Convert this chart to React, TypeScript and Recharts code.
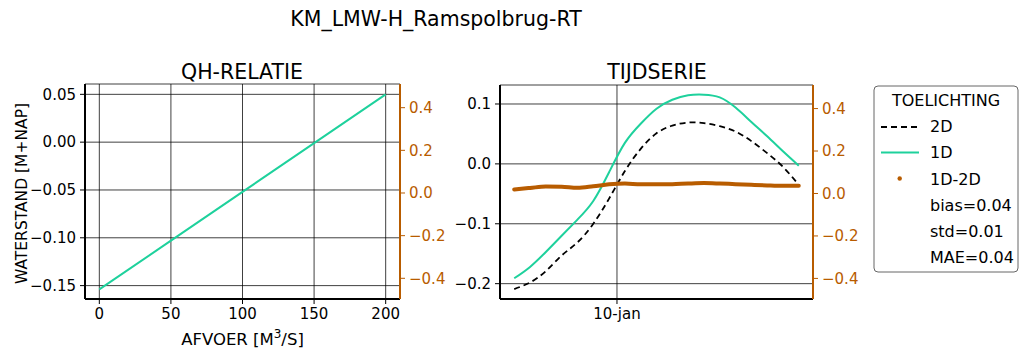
import React from 'react';
import { ComposedChart, Line, XAxis, YAxis, CartesianGrid } from 'recharts';

const FONT = "'DejaVu Sans', sans-serif";

// QH relation
const qhDischarge = [0, 50, 100, 150, 200];
const qhLevel = [-0.154, -0.103, -0.052, -0.001, 0.05];
const qhXTicks = [0, 50, 100, 150, 200];
const qhYTicks = [-0.15, -0.1, -0.05, 0, 0.05];
const diffTicks = [-0.4, -0.2, 0, 0.2, 0.4];

// time series (hours from start)
const tsHours = [0, 2, 4, 6, 8, 10, 12, 14, 16, 18, 20, 22, 24, 26, 28, 30, 32, 34, 36];
const ts2D = [-0.209, -0.198, -0.179, -0.153, -0.131, -0.1, -0.058, -0.012, 0.025, 0.051, 0.064, 0.069, 0.068, 0.063, 0.054, 0.038, 0.018, -0.005, -0.035];
const ts1D = [-0.191, -0.172, -0.147, -0.12, -0.093, -0.062, -0.014, 0.035, 0.067, 0.092, 0.107, 0.1145, 0.1155, 0.111, 0.094, 0.07, 0.046, 0.021, -0.003];
const tsDiff = [0.019, 0.026, 0.033, 0.032, 0.027, 0.034, 0.043, 0.047, 0.043, 0.043, 0.044, 0.047, 0.049, 0.047, 0.044, 0.041, 0.038, 0.036, 0.036];
const tsYTicks = [-0.2, -0.1, 0, 0.1];
const tsXTicks = [13];
const tsXTickLabels = ['10-jan'];

const legendLabels = ['2D', '1D', '1D-2D'];
const statLabels = ['bias=0.04', 'std=0.01', 'MAE=0.04'];

const GREEN = '#1ed19c';
const ORANGE = '#b85c00';

const qhData = qhDischarge.map((q, i) => ({ q, h: qhLevel[i] }));
const tsData = tsHours.map((t, i) => ({ t, d2: ts2D[i], d1: ts1D[i], diff: tsDiff[i] }));

const minus = (s: string) => s.replace('-', '\u2212');
const tickStyle = { fontSize: 15, fill: '#000', fontFamily: FONT };
const orangeTick = { fontSize: 15, fill: ORANGE, fontFamily: FONT };

export default function App() {
  return (
    <div style={{ position: 'absolute', left: 0, top: 0, width: 1022, height: 353, background: '#fff', fontFamily: FONT }}>
      <div style={{ position: 'absolute', left: 0, top: 0 }}>
        <ComposedChart width={460} height={353} data={qhData} margin={{ top: 84, right: 0, bottom: 24, left: 0 }}>
          <CartesianGrid xAxisId="x" yAxisId="left" stroke="#000" strokeOpacity={0.75} strokeWidth={1} />
          <XAxis xAxisId="x" dataKey="q" type="number" domain={[-10, 210]} ticks={qhXTicks} height={30}
            axisLine={{ stroke: '#000', strokeWidth: 2 }} tickLine={{ stroke: '#000' }} tickSize={5} tickMargin={4}
            tick={tickStyle} allowDataOverflow />
          <XAxis xAxisId="top" orientation="top" type="number" domain={[-10, 210]} height={0} tick={false} tickLine={false}
            axisLine={{ stroke: '#000', strokeWidth: 2 }} />
          <YAxis yAxisId="left" type="number" domain={[-0.164, 0.0608]} ticks={qhYTicks} width={85}
            tickFormatter={(v: number) => minus(v.toFixed(2))} axisLine={{ stroke: '#000', strokeWidth: 2 }}
            tickLine={{ stroke: '#000' }} tickSize={5} tickMargin={4} tick={tickStyle} allowDataOverflow />
          <YAxis yAxisId="right" orientation="right" type="number" domain={[-0.497, 0.511]} ticks={diffTicks} width={60}
            tickFormatter={(v: number) => minus(v.toFixed(1))} axisLine={{ stroke: ORANGE, strokeWidth: 2 }}
            tickLine={{ stroke: ORANGE }} tickSize={5} tickMargin={4} tick={orangeTick} allowDataOverflow />
          <Line xAxisId="x" yAxisId="left" dataKey="h" stroke={GREEN} strokeWidth={2} dot={false} isAnimationActive={false} type="linear" />
        </ComposedChart>
      </div>
      <div style={{ position: 'absolute', left: 440, top: 0 }}>
        <ComposedChart width={443} height={353} data={tsData} margin={{ top: 85, right: 0, bottom: 24, left: 0 }}>
          <CartesianGrid xAxisId="x" yAxisId="left" stroke="#000" strokeOpacity={0.75} strokeWidth={1} />
          <XAxis xAxisId="x" dataKey="t" type="number" domain={[-1.8, 37.8]} ticks={tsXTicks} height={30}
            tickFormatter={(v: number) => tsXTickLabels[tsXTicks.indexOf(v)] ?? ''}
            axisLine={{ stroke: '#000', strokeWidth: 2 }} tickLine={{ stroke: '#000' }} tickSize={5} tickMargin={4}
            tick={tickStyle} allowDataOverflow />
          <XAxis xAxisId="top" orientation="top" type="number" domain={[-1.8, 37.8]} height={0} tick={false} tickLine={false}
            axisLine={{ stroke: '#000', strokeWidth: 2 }} />
          <YAxis yAxisId="left" type="number" domain={[-0.2256, 0.1317]} ticks={tsYTicks} width={60}
            tickFormatter={(v: number) => minus(v.toFixed(1))} axisLine={{ stroke: '#000', strokeWidth: 2 }}
            tickLine={{ stroke: '#000' }} tickSize={5} tickMargin={4} tick={tickStyle} allowDataOverflow />
          <YAxis yAxisId="right" orientation="right" type="number" domain={[-0.497, 0.511]} ticks={diffTicks} width={70}
            tickFormatter={(v: number) => minus(v.toFixed(1))} axisLine={{ stroke: ORANGE, strokeWidth: 2 }}
            tickLine={{ stroke: ORANGE }} tickSize={5} tickMargin={4} tick={orangeTick} allowDataOverflow />
          <Line xAxisId="x" yAxisId="left" dataKey="d2" stroke="#000" strokeWidth={1.8} strokeDasharray="6 4" dot={false} isAnimationActive={false} type="natural" />
          <Line xAxisId="x" yAxisId="left" dataKey="d1" stroke={GREEN} strokeWidth={2} dot={false} isAnimationActive={false} type="natural" />
          <Line xAxisId="x" yAxisId="right" dataKey="diff" stroke={ORANGE} strokeWidth={4} strokeLinecap="round" dot={false} isAnimationActive={false} type="monotone" />
        </ComposedChart>
      </div>
      <svg width={1022} height={353} style={{ position: 'absolute', left: 0, top: 0, pointerEvents: 'none' }} fontFamily={FONT}>
        <text x={436} y={26} textAnchor="middle" fontSize={20.5} fill="#000">KM_LMW-H_Ramspolbrug-RT</text>
        <text x={242} y={79} textAnchor="middle" fontSize={20.5} fill="#000">QH-RELATIE</text>
        <text x={657} y={79} textAnchor="middle" fontSize={20.5} fill="#000">TIJDSERIE</text>
        <text transform="translate(27,193.5) rotate(-90)" textAnchor="middle" fontSize={15.5} fill="#000">WATERSTAND [M+NAP]</text>
        <text x={242.5} y={345} textAnchor="middle" fontSize={16.5} fill="#000">
          AFVOER [M<tspan dy={-7} fontSize={12}>3</tspan><tspan dy={7}>/S]</tspan>
        </text>
        <rect x={874} y={86} width={144} height={186} rx={4} ry={4} fill="#fff" stroke="#666" strokeWidth={1} />
        <text x={946} y={106} textAnchor="middle" fontSize={16} fill="#000">TOELICHTING</text>
        <line x1={881} y1={127} x2={919} y2={127} stroke="#000" strokeWidth={1.8} strokeDasharray="6 4" />
        <text x={930} y={132} fontSize={16} fill="#000">{legendLabels[0]}</text>
        <line x1={881} y1={152.5} x2={919} y2={152.5} stroke={GREEN} strokeWidth={2} />
        <text x={930} y={158} fontSize={16} fill="#000">{legendLabels[1]}</text>
        <circle cx={899.7} cy={178.5} r={2.2} fill={ORANGE} />
        <text x={930} y={185} fontSize={16} fill="#000">{legendLabels[2]}</text>
        <text x={930} y={211} fontSize={16} fill="#000">{statLabels[0]}</text>
        <text x={930} y={237} fontSize={16} fill="#000">{statLabels[1]}</text>
        <text x={930} y={263} fontSize={16} fill="#000">{statLabels[2]}</text>
      </svg>
    </div>
  );
}
